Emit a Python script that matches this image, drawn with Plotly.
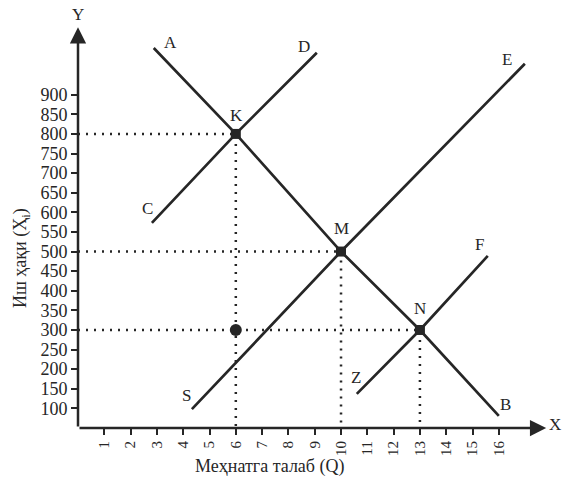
"""Labour market supply/demand shift chart (wage vs labour demand)."""

import plotly.graph_objects as go

# Demand line A-B passing through K, M, N
ab_q = [2.88, 6, 10, 13, 16.0]
ab_w = [1019, 800, 500, 300, 81]

# Supply lines
cd_q = [2.81, 6, 9.08]
cd_w = [573, 800, 1007]
se_q = [4.33, 10, 16.99]
se_w = [98, 500, 979]
zf_q = [10.6, 13, 15.58]
zf_w = [137, 300, 489]

# Equilibrium points
eq_names = ["K", "M", "N"]
eq_q = [6, 10, 13]
eq_w = [800, 500, 300]

# Extra point on the Q=6 guide
extra_q = [6]
extra_w = [300]

x_ticks = list(range(1, 17))
y_ticks = list(range(100, 901, 50))

x_title = "Меҳнатга талаб (Q)"
y_title = "Иш ҳақи (Ҳ<sub>i</sub>)"

ink = '#262626'
font_family = "Liberation Serif, Times New Roman, serif"
Y0 = 50  # level where the X axis sits

fig = go.Figure()

# Dotted guides from the equilibrium points to the axes
for q, w in zip(eq_q, eq_w):
    fig.add_trace(go.Scatter(
        x=[0, q, q], y=[w, w, Y0],
        mode='lines',
        line=dict(color=ink, width=2.5, dash='2px,6px'),
        hoverinfo='skip'
    ))

for q, w in [(ab_q, ab_w), (cd_q, cd_w), (se_q, se_w), (zf_q, zf_w)]:
    fig.add_trace(go.Scatter(
        x=q, y=w, mode='lines',
        line=dict(color=ink, width=2.7),
        hoverinfo='skip'
    ))

fig.add_trace(go.Scatter(
    x=eq_q, y=eq_w, mode='markers',
    marker=dict(symbol='square', size=10, color=ink),
    text=eq_names, hoverinfo='text'
))
fig.add_trace(go.Scatter(
    x=extra_q, y=extra_w, mode='markers',
    marker=dict(symbol='circle', size=12, color=ink),
    hoverinfo='skip'
))

# Curve / point letters
letters = [
    ("A", 3.53, 1032), ("D", 8.59, 1022), ("C", 2.65, 611),
    ("K", 6.04, 848), ("M", 10.03, 560), ("E", 16.3, 991),
    ("F", 15.28, 517), ("N", 13.0, 356), ("Z", 10.56, 180),
    ("S", 4.14, 132), ("B", 16.27, 109),
    ("Y", 0.0, 1104), ("X", 18.12, 58),
]
for t, x, y in letters:
    fig.add_annotation(x=x, y=y, text=t, showarrow=False,
                       font=dict(size=17, color=ink, family=font_family))

# Axes drawn as arrows
fig.add_annotation(x=0, y=1072, ax=0, ay=Y0, axref='x', ayref='y',
                   text='', showarrow=True, arrowhead=2, arrowsize=1.3,
                   arrowwidth=2.5, arrowcolor=ink)
fig.add_annotation(x=17.8, y=Y0, ax=0, ay=Y0, axref='x', ayref='y',
                   text='', showarrow=True, arrowhead=2, arrowsize=1.3,
                   arrowwidth=2.5, arrowcolor=ink)

# Axis titles
fig.add_annotation(x=7.3, y=-0.09, xref='x', yref='paper', text=x_title,
                   showarrow=False, xanchor='center', yanchor='middle',
                   font=dict(size=18, color=ink, family=font_family))
fig.add_annotation(x=-0.115, y=484, xref='paper', yref='y', text=y_title,
                   showarrow=False, textangle=-90,
                   xanchor='center', yanchor='middle',
                   font=dict(size=18, color=ink, family=font_family))

fig.update_layout(
    width=563,
    height=485,
    margin=dict(l=78, r=0, t=1, b=57),
    showlegend=False,
    paper_bgcolor='white',
    plot_bgcolor='white',
    font=dict(family=font_family, color=ink),
    xaxis=dict(
        range=[0, 18.44], tickvals=x_ticks, ticktext=[str(v) for v in x_ticks],
        tickangle=-90, ticks='outside', ticklen=6, tickwidth=2, tickcolor=ink,
        tickfont=dict(size=15, color=ink), showgrid=False, zeroline=False,
        showline=False, automargin=False
    ),
    yaxis=dict(
        range=[Y0, 1139], tickvals=y_ticks, ticktext=[str(v) for v in y_ticks],
        ticks='outside', ticklen=6, tickwidth=2, tickcolor=ink,
        tickfont=dict(size=18, color=ink), showgrid=False, zeroline=False,
        showline=False, automargin=False
    )
)

# the page's default body margin would push the figure off by 8px
fig.write_html("out.html", config={'displayModeBar': False},
               post_script="document.body.style.margin='0';")
